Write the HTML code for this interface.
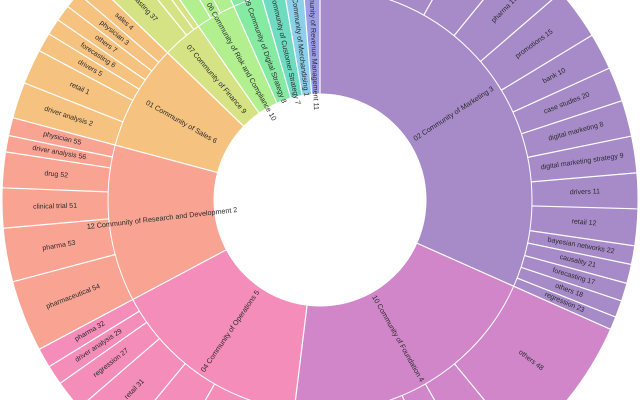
<!DOCTYPE html>
<html><head><meta charset="utf-8"><style>
html,body{margin:0;padding:0;background:#fff;width:640px;height:400px;overflow:hidden;}
svg{display:block;overflow:hidden;}
text{font-family:"Liberation Sans",Arial,sans-serif;fill:#2b2b2b;text-anchor:middle;dominant-baseline:central;}
.i{font-size:7.2px;}
.o{font-size:7px;}
</style></head><body>
<svg width="640" height="400" viewBox="0 0 640 400" xmlns="http://www.w3.org/2000/svg">
<g fill="none">
<g stroke-width="106">
<circle cx="320" cy="200" r="159" pathLength="360" stroke="#a78bc9" stroke-dasharray="114 360" transform="rotate(-90 320 200)"/>
<circle cx="320" cy="200" r="159" pathLength="360" stroke="#d086c9" stroke-dasharray="73 360" transform="rotate(24 320 200)"/>
<circle cx="320" cy="200" r="159" pathLength="360" stroke="#f48db9" stroke-dasharray="55 360" transform="rotate(97 320 200)"/>
<circle cx="320" cy="200" r="159" pathLength="360" stroke="#f9a393" stroke-dasharray="43 360" transform="rotate(152 320 200)"/>
<circle cx="320" cy="200" r="159" pathLength="360" stroke="#f6c27f" stroke-dasharray="29 360" transform="rotate(195 320 200)"/>
<circle cx="320" cy="200" r="159" pathLength="360" stroke="#d6e385" stroke-dasharray="11 360" transform="rotate(224 320 200)"/>
<circle cx="320" cy="200" r="159" pathLength="360" stroke="#b1ef8f" stroke-dasharray="11 360" transform="rotate(235 320 200)"/>
<circle cx="320" cy="200" r="159" pathLength="360" stroke="#86eba2" stroke-dasharray="8 360" transform="rotate(246 320 200)"/>
<circle cx="320" cy="200" r="159" pathLength="360" stroke="#6fdcc2" stroke-dasharray="6.3 360" transform="rotate(254 320 200)"/>
<circle cx="320" cy="200" r="159" pathLength="360" stroke="#8ccfe9" stroke-dasharray="5.2 360" transform="rotate(260.3 320 200)"/>
<circle cx="320" cy="200" r="159" pathLength="360" stroke="#9c9fe6" stroke-dasharray="4.5 360" transform="rotate(265.5 320 200)"/>
</g>
<g stroke-width="106">
<circle cx="320" cy="200" r="265" pathLength="360" stroke="#a78bc9" stroke-dasharray="114 360" transform="rotate(-90 320 200)"/>
<circle cx="320" cy="200" r="265" pathLength="360" stroke="#d086c9" stroke-dasharray="73 360" transform="rotate(24 320 200)"/>
<circle cx="320" cy="200" r="265" pathLength="360" stroke="#f48db9" stroke-dasharray="55 360" transform="rotate(97 320 200)"/>
<circle cx="320" cy="200" r="265" pathLength="360" stroke="#f9a393" stroke-dasharray="43 360" transform="rotate(152 320 200)"/>
<circle cx="320" cy="200" r="265" pathLength="360" stroke="#f6c27f" stroke-dasharray="29 360" transform="rotate(195 320 200)"/>
<circle cx="320" cy="200" r="265" pathLength="360" stroke="#d6e385" stroke-dasharray="11 360" transform="rotate(224 320 200)"/>
<circle cx="320" cy="200" r="265" pathLength="360" stroke="#b1ef8f" stroke-dasharray="11 360" transform="rotate(235 320 200)"/>
<circle cx="320" cy="200" r="265" pathLength="360" stroke="#86eba2" stroke-dasharray="8 360" transform="rotate(246 320 200)"/>
<circle cx="320" cy="200" r="265" pathLength="360" stroke="#6fdcc2" stroke-dasharray="6.3 360" transform="rotate(254 320 200)"/>
<circle cx="320" cy="200" r="265" pathLength="360" stroke="#8ccfe9" stroke-dasharray="5.2 360" transform="rotate(260.3 320 200)"/>
<circle cx="320" cy="200" r="265" pathLength="360" stroke="#9c9fe6" stroke-dasharray="4.5 360" transform="rotate(265.5 320 200)"/>
</g>
<g stroke="#fff" stroke-width="1">
<circle cx="320" cy="200" r="212"/>
<circle cx="320" cy="200" r="106"/>
<circle cx="320" cy="200" r="318"/>
</g>
</g>
<g stroke="#fff" stroke-width="1.2">
<line x1="320" y1="94" x2="320" y2="-118" transform="rotate(0 320 200)"/>
<line x1="320" y1="94" x2="320" y2="-118" transform="rotate(114 320 200)"/>
<line x1="320" y1="94" x2="320" y2="-118" transform="rotate(187 320 200)"/>
<line x1="320" y1="94" x2="320" y2="-118" transform="rotate(242 320 200)"/>
<line x1="320" y1="94" x2="320" y2="-118" transform="rotate(285 320 200)"/>
<line x1="320" y1="94" x2="320" y2="-118" transform="rotate(314 320 200)"/>
<line x1="320" y1="94" x2="320" y2="-118" transform="rotate(325 320 200)"/>
<line x1="320" y1="94" x2="320" y2="-118" transform="rotate(336 320 200)"/>
<line x1="320" y1="94" x2="320" y2="-118" transform="rotate(344 320 200)"/>
<line x1="320" y1="94" x2="320" y2="-118" transform="rotate(350.3 320 200)"/>
<line x1="320" y1="94" x2="320" y2="-118" transform="rotate(355.5 320 200)"/>
</g>
<g stroke="#fff" stroke-width="1.2">
<line x1="320" y1="-12" x2="320" y2="-118" transform="rotate(19.8 320 200)"/>
<line x1="320" y1="-12" x2="320" y2="-118" transform="rotate(29.3 320 200)"/>
<line x1="320" y1="-12" x2="320" y2="-118" transform="rotate(39.2 320 200)"/>
<line x1="320" y1="-12" x2="320" y2="-118" transform="rotate(49.2 320 200)"/>
<line x1="320" y1="-12" x2="320" y2="-118" transform="rotate(58.8 320 200)"/>
<line x1="320" y1="-12" x2="320" y2="-118" transform="rotate(65.5 320 200)"/>
<line x1="320" y1="-12" x2="320" y2="-118" transform="rotate(71.8 320 200)"/>
<line x1="320" y1="-12" x2="320" y2="-118" transform="rotate(78.4 320 200)"/>
<line x1="320" y1="-12" x2="320" y2="-118" transform="rotate(85.1 320 200)"/>
<line x1="320" y1="-12" x2="320" y2="-118" transform="rotate(91.6 320 200)"/>
<line x1="320" y1="-12" x2="320" y2="-118" transform="rotate(98.3 320 200)"/>
<line x1="320" y1="-12" x2="320" y2="-118" transform="rotate(101.7 320 200)"/>
<line x1="320" y1="-12" x2="320" y2="-118" transform="rotate(105.2 320 200)"/>
<line x1="320" y1="-12" x2="320" y2="-118" transform="rotate(108.5 320 200)"/>
<line x1="320" y1="-12" x2="320" y2="-118" transform="rotate(111.6 320 200)"/>
<line x1="320" y1="-12" x2="320" y2="-118" transform="rotate(140.6 320 200)"/>
<line x1="320" y1="-12" x2="320" y2="-118" transform="rotate(150.2 320 200)"/>
<line x1="320" y1="-12" x2="320" y2="-118" transform="rotate(157.2 320 200)"/>
<line x1="320" y1="-12" x2="320" y2="-118" transform="rotate(165 320 200)"/>
<line x1="320" y1="-12" x2="320" y2="-118" transform="rotate(176 320 200)"/>
<line x1="320" y1="-12" x2="320" y2="-118" transform="rotate(209.8 320 200)"/>
<line x1="320" y1="-12" x2="320" y2="-118" transform="rotate(219.5 320 200)"/>
<line x1="320" y1="-12" x2="320" y2="-118" transform="rotate(229.2 320 200)"/>
<line x1="320" y1="-12" x2="320" y2="-118" transform="rotate(234.8 320 200)"/>
<line x1="320" y1="-12" x2="320" y2="-118" transform="rotate(238.4 320 200)"/>
<line x1="320" y1="-12" x2="320" y2="-118" transform="rotate(255.1 320 200)"/>
<line x1="320" y1="-12" x2="320" y2="-118" transform="rotate(264.9 320 200)"/>
<line x1="320" y1="-12" x2="320" y2="-118" transform="rotate(272.2 320 200)"/>
<line x1="320" y1="-12" x2="320" y2="-118" transform="rotate(278.7 320 200)"/>
<line x1="320" y1="-12" x2="320" y2="-118" transform="rotate(281.7 320 200)"/>
<line x1="320" y1="-12" x2="320" y2="-118" transform="rotate(291.6 320 200)"/>
<line x1="320" y1="-12" x2="320" y2="-118" transform="rotate(298 320 200)"/>
<line x1="320" y1="-12" x2="320" y2="-118" transform="rotate(301.5 320 200)"/>
<line x1="320" y1="-12" x2="320" y2="-118" transform="rotate(304.5 320 200)"/>
<line x1="320" y1="-12" x2="320" y2="-118" transform="rotate(307.5 320 200)"/>
<line x1="320" y1="-12" x2="320" y2="-118" transform="rotate(310.5 320 200)"/>
<line x1="320" y1="-12" x2="320" y2="-118" transform="rotate(321 320 200)"/>
<line x1="320" y1="-12" x2="320" y2="-118" transform="rotate(323.5 320 200)"/>
<line x1="320" y1="-12" x2="320" y2="-118" transform="rotate(329 320 200)"/>
<line x1="320" y1="-12" x2="320" y2="-118" transform="rotate(332 320 200)"/>
<line x1="320" y1="-12" x2="320" y2="-118" transform="rotate(340 320 200)"/>
<line x1="320" y1="-12" x2="320" y2="-118" transform="rotate(347 320 200)"/>
</g>
<g class="i">
<text transform="rotate(57 320 200) translate(320 41) rotate(-90)">02 Community of Marketing 3</text>
<text transform="rotate(150.5 320 200) translate(320 41) rotate(-90)">10 Community of Foundation 4</text>
<text transform="rotate(214.5 320 200) translate(320 41) rotate(90)">04 Community of Operations 5</text>
<text transform="rotate(263.5 320 200) translate(320 41) rotate(90)">12 Community of Research and Development 2</text>
<text transform="rotate(299.5 320 200) translate(320 41) rotate(90)">01 Community of Sales 6</text>
<text transform="rotate(319.5 320 200) translate(320 41) rotate(90)">07 Community of Finance 9</text>
<text transform="rotate(330.5 320 200) translate(320 41) rotate(90)">06 Community of Risk and Compliance 10</text>
<text transform="rotate(340 320 200) translate(320 41) rotate(90)">09 Community of Digital Strategy 8</text>
<text transform="rotate(347.2 320 200) translate(320 41) rotate(90)">03 Community of Customer Strategy 7</text>
<text transform="rotate(352.9 320 200) translate(320 41) rotate(90)">05 Community of Merchandising 1</text>
<text transform="rotate(357.8 320 200) translate(320 41) rotate(90)">11 Community of Revenue Management 11</text>
</g>
<g class="o">
<text transform="rotate(9.9 320 200) translate(320 -65) rotate(-90)">hospital 13</text>
<text transform="rotate(24.55 320 200) translate(320 -65) rotate(-90)">finance 14</text>
<text transform="rotate(34.25 320 200) translate(320 -65) rotate(-90)">pharma 16</text>
<text transform="rotate(44.2 320 200) translate(320 -65) rotate(-90)">pharma 19</text>
<text transform="rotate(54 320 200) translate(320 -65) rotate(-90)">promotions 15</text>
<text transform="rotate(62.15 320 200) translate(320 -65) rotate(-90)">bank 10</text>
<text transform="rotate(68.65 320 200) translate(320 -65) rotate(-90)">case studies 20</text>
<text transform="rotate(75.1 320 200) translate(320 -65) rotate(-90)">digital marketing 8</text>
<text transform="rotate(81.75 320 200) translate(320 -65) rotate(-90)">digital marketing strategy 9</text>
<text transform="rotate(88.35 320 200) translate(320 -65) rotate(-90)">drivers 11</text>
<text transform="rotate(94.95 320 200) translate(320 -65) rotate(-90)">retail 12</text>
<text transform="rotate(100 320 200) translate(320 -65) rotate(-90)">bayesian networks 22</text>
<text transform="rotate(103.45 320 200) translate(320 -65) rotate(-90)">causality 21</text>
<text transform="rotate(106.85 320 200) translate(320 -65) rotate(-90)">forecasting 17</text>
<text transform="rotate(110.05 320 200) translate(320 -65) rotate(-90)">others 18</text>
<text transform="rotate(112.8 320 200) translate(320 -65) rotate(-90)">regression 23</text>
<text transform="rotate(127.3 320 200) translate(320 -65) rotate(-90)">others 48</text>
<text transform="rotate(145.4 320 200) translate(320 -65) rotate(-90)">agents 44</text>
<text transform="rotate(198.4 320 200) translate(320 -65) rotate(90)">analysis 30</text>
<text transform="rotate(214.65 320 200) translate(320 -65) rotate(90)">drivers 28</text>
<text transform="rotate(224.35 320 200) translate(320 -65) rotate(90)">retail 31</text>
<text transform="rotate(232 320 200) translate(320 -65) rotate(90)">regression 27</text>
<text transform="rotate(236.6 320 200) translate(320 -65) rotate(90)">driver analysis 29</text>
<text transform="rotate(240.2 320 200) translate(320 -65) rotate(90)">pharma 32</text>
<text transform="rotate(248.55 320 200) translate(320 -65) rotate(90)">pharmaceutical 54</text>
<text transform="rotate(260 320 200) translate(320 -65) rotate(90)">pharma 53</text>
<text transform="rotate(268.55 320 200) translate(320 -65) rotate(90)">clinical trial 51</text>
<text transform="rotate(275.45 320 200) translate(320 -65) rotate(90)">drug 52</text>
<text transform="rotate(280.2 320 200) translate(320 -65) rotate(90)">driver analysis 56</text>
<text transform="rotate(283.35 320 200) translate(320 -65) rotate(90)">physician 55</text>
<text transform="rotate(288.3 320 200) translate(320 -65) rotate(90)">driver analysis 2</text>
<text transform="rotate(294.8 320 200) translate(320 -65) rotate(90)">retail 1</text>
<text transform="rotate(299.75 320 200) translate(320 -65) rotate(90)">drivers 5</text>
<text transform="rotate(303 320 200) translate(320 -65) rotate(90)">forecasting 6</text>
<text transform="rotate(306 320 200) translate(320 -65) rotate(90)">others 7</text>
<text transform="rotate(309 320 200) translate(320 -65) rotate(90)">physician 3</text>
<text transform="rotate(312.25 320 200) translate(320 -65) rotate(90)">sales 4</text>
<text transform="rotate(317.5 320 200) translate(320 -65) rotate(90)">forecasting 37</text>
</g>
</svg>
</body></html>
